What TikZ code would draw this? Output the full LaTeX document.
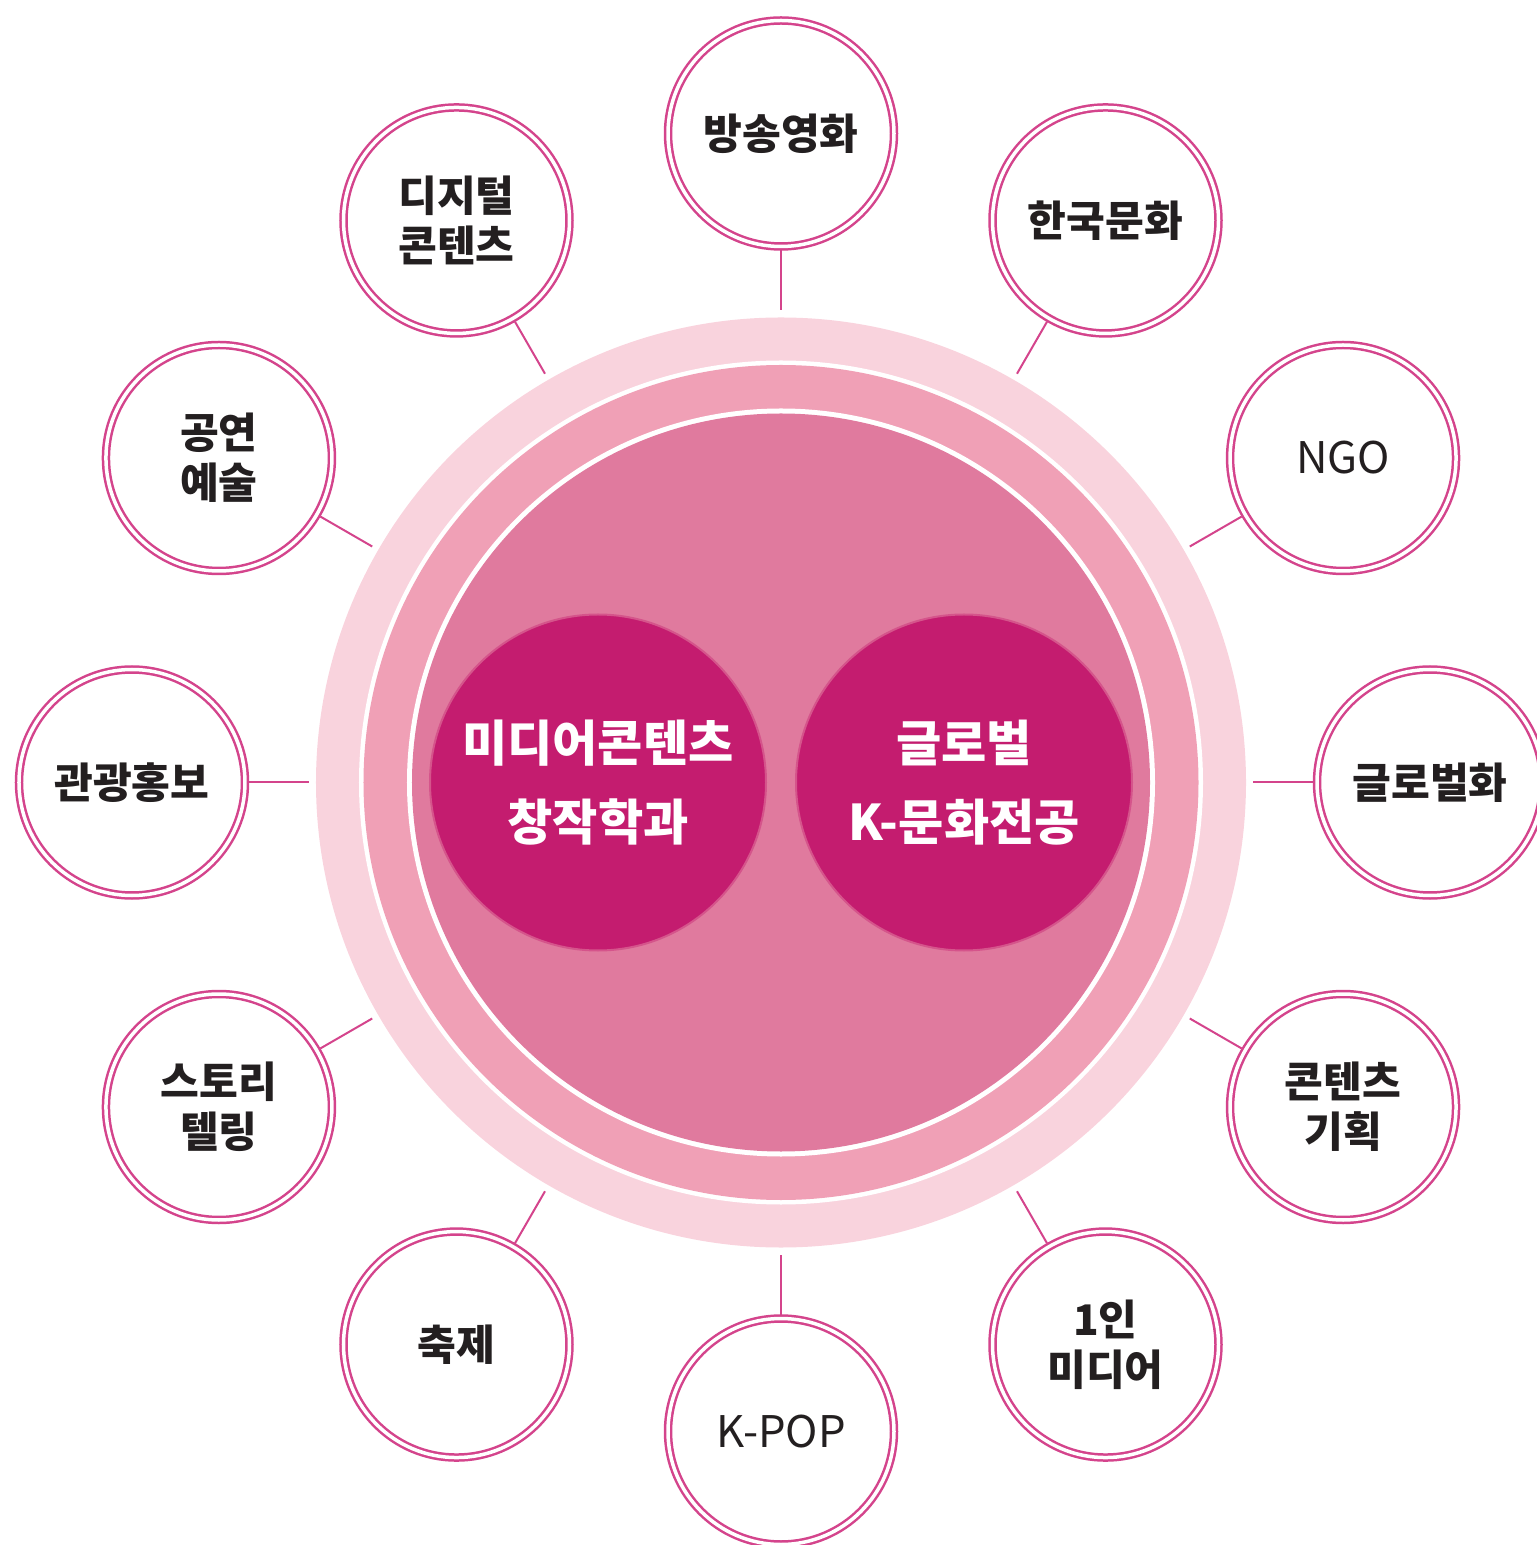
\documentclass[tikz,border=0pt]{standalone}
\usepackage{fontspec}
\setmainfont{Noto Sans CJK KR}
\definecolor{halopink}{HTML}{F9D3DD}
\definecolor{midpink}{HTML}{F0A0B6}
\definecolor{corepink}{HTML}{E07A9E}
\definecolor{deepmagenta}{HTML}{C41C6F}
\definecolor{ringpink}{HTML}{D4448C}
\definecolor{labelgray}{HTML}{231F20}

\begin{document}
\begin{tikzpicture}[
  field/.style={circle, fill=deepmagenta, draw=corepink!60!deepmagenta, line width=.02cm, minimum size=3.36cm, inner sep=0pt, align=center, text=white, font=\fontsize{14}{22.5}\selectfont\bfseries},
  topic/.style={circle, draw=ringpink, double=white, double distance=.035cm, line width=.025cm, fill=white, minimum size=2.26cm, inner sep=0pt, outer sep=.04cm, align=center, text=labelgray, font=\fontsize{12}{14.2}\selectfont\bfseries},
  latin/.style={font=\fontsize{12.4}{14.2}\selectfont},
  link/.style={draw=ringpink, line width=.02cm, shorten >=.07cm}]
\useasboundingbox (-7.81,-7.625) rectangle (7.55,7.825);
% rings
\node[circle, fill=halopink, minimum size=9.3cm, inner sep=0pt, outer sep=0pt] (halo) at (0,0) {};
\fill[white] (0,0) circle (4.22);
\fill[midpink] (0,0) circle (4.175);
\fill[white] (0,0) circle (3.74);
\fill[corepink] (0,0) circle (3.69);
% majors
\node[field] (mediadept) at (-1.83,0) {미디어콘텐츠\\창작학과};
\node[field] (kculture) at (1.83,0) {글로벌\\K-문화전공};
% topics
\node[topic] (broadcast) at (90:6.49) {방송영화};
\node[topic] (koreanculture) at (60:6.49) {한국문화};
\node[topic, latin] (ngo) at (30:6.49) {NGO};
\node[topic] (globalization) at (0:6.49) {글로벌화};
\node[topic] (planning) at (-30:6.49) {콘텐츠\\기획};
\node[topic] (onemedia) at (-60:6.49) {1인\\미디어};
\node[topic, latin] (kpop) at (-90:6.49) {K-POP};
\node[topic] (festival) at (-120:6.49) {축제};
\node[topic] (storytelling) at (-150:6.49) {스토리\\텔링};
\node[topic] (tourism) at (180:6.49) {관광홍보};
\node[topic] (performing) at (150:6.49) {공연\\예술};
\node[topic] (digital) at (120:6.49) {디지털\\콘텐츠};
% links
\draw[link] (broadcast) -- (halo);
\draw[link] (koreanculture) -- (halo);
\draw[link] (ngo) -- (halo);
\draw[link] (globalization) -- (halo);
\draw[link] (planning) -- (halo);
\draw[link] (onemedia) -- (halo);
\draw[link] (kpop) -- (halo);
\draw[link] (festival) -- (halo);
\draw[link] (storytelling) -- (halo);
\draw[link] (tourism) -- (halo);
\draw[link] (performing) -- (halo);
\draw[link] (digital) -- (halo);
\end{tikzpicture}
\end{document}
